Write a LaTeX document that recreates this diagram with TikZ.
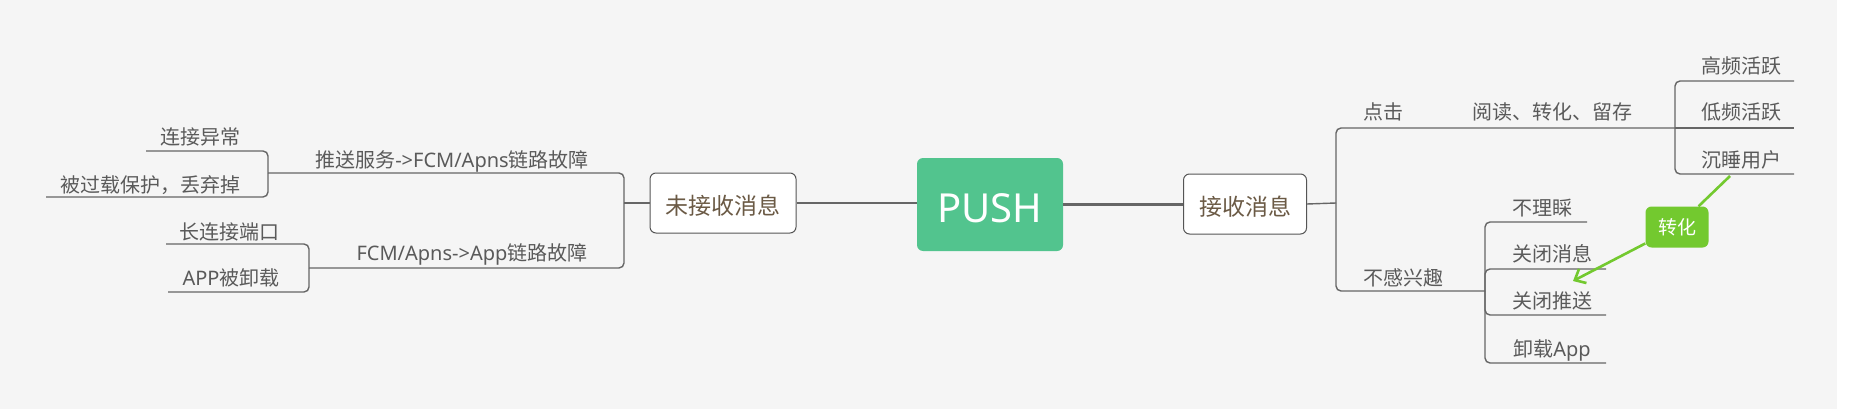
\documentclass[tikz,border=0pt]{standalone}
\usepackage{fontspec}
\setmainfont{Noto Sans CJK SC}
\newfontfamily\latf{Noto Sans}
\usetikzlibrary{arrows.meta}
\definecolor{bg}{HTML}{F5F5F5}
\definecolor{lnc}{HTML}{666666}
\definecolor{txt}{HTML}{5A5A5A}
\definecolor{mtxt}{HTML}{6B5A45}
\definecolor{pushg}{HTML}{52C48E}
\definecolor{cg}{HTML}{73C92F}
\definecolor{bord}{HTML}{555555}
\begin{document}
\begin{tikzpicture}[x=1pt,y=-1pt,
  lbl/.style={font=\fontsize{20}{24}\selectfont, text=txt, inner sep=0pt, anchor=base},
  mainbox/.style={draw=bord, line width=1pt, fill=white, rounded corners=6pt,
    minimum height=60pt, inner sep=0pt, font=\fontsize{23}{27}\selectfont,
    text=mtxt, text height=23.4pt, text depth=0pt},
  pushbox/.style={fill=pushg, rounded corners=6pt, minimum width=146pt,
    minimum height=93pt, inner sep=0pt, text=white, font=\latf\fontsize{40}{48}\selectfont,
    text height=36pt, text depth=0pt},
  callout/.style={fill=cg, rounded corners=6pt, minimum width=63pt, minimum height=41pt,
    inner sep=0pt, text=white, font=\fontsize{19}{23}\selectfont},
  br/.style={draw=lnc, line width=1.4pt, rounded corners=5pt},
  mainline/.style={draw=lnc, line width=2.6pt},
  gline/.style={draw=cg, line width=2.6pt}
]
\useasboundingbox (0,0) rectangle (1849,409);
\fill[white] (0,0) rectangle (1849,409);
\fill[bg] (0,0) rectangle (1837,409);

% central and main nodes
\node[pushbox] (push) at (990,204.5) {PUSH};
\node[mainbox, minimum width=146pt] (lnode) at (723,203) {未接收消息};
\node[mainbox, minimum width=123pt] (rnode) at (1245,204) {接收消息};
\draw[mainline] (lnode.east) -- (lnode.east -| push.west);
\draw[mainline] (push.east) -- (push.east -| rnode.west);

% left tree
\coordinate (jL) at (624,203);
\coordinate (jA) at (268,173);
\coordinate (jB) at (309,268);
\coordinate (eA1) at (146,151);
\coordinate (eA2) at (46,197);
\coordinate (eB1) at (166,244);
\coordinate (eB2) at (168,292);
\draw[br] (lnode.west) -- (jL);
\draw[br] (jL) |- (jA);
\draw[br] (jL) |- (jB);
\draw[br] (jA) |- (eA1);
\draw[br] (jA) |- (eA2);
\draw[br] (jB) |- (eB1);
\draw[br] (jB) |- (eB2);

\node[lbl] (a1) at (200,144) {连接异常};
\node[lbl] (a2) at (150,192) {被过载保护，丢弃掉};
\node[lbl] (la) at (452,167) {推送服务{\latf->FCM/Apns}链路故障};
\node[lbl] (b1) at (229,239) {长连接端口};
\node[lbl] (b2) at (231,285) {{\latf APP}被卸载};
\node[lbl] (lb) at (472,260) {{\latf FCM/Apns->App}链路故障};

% right tree
\coordinate (jR) at (1336,203);
\coordinate (jC) at (1675,128);
\coordinate (jD) at (1485,291);
\coordinate (eC1) at (1794,81);
\coordinate (eC2) at (1794,128);
\coordinate (eC3) at (1794,174);
\coordinate (eD1) at (1587,222);
\coordinate (eD2) at (1606,269);
\coordinate (eD3) at (1606,315);
\coordinate (eD4) at (1606,363);
\draw[br] (rnode.east) -- (jR);
\draw[br] (jR) |- (jC);
\draw[br] (jR) |- (jD);
\draw[br] (jC) |- (eC1);
\draw[br] (jC) -- (eC2);
\draw[br] (jC) |- (eC3);
\draw[br] (jD) |- (eD1);
\draw[br] (jD) |- (eD2);
\draw[br] (jD) |- (eD3);
\draw[br] (jD) |- (eD4);

\node[lbl] (click) at (1383,120) {点击};
\node[lbl] (read) at (1552,120) {阅读、转化、留存};
\node[lbl] (c1) at (1741,74) {高频活跃};
\node[lbl] (c2) at (1741,120) {低频活跃};
\node[lbl] (c3) at (1741,167) {沉睡用户};
\node[lbl] (nointr) at (1403,285) {不感兴趣};
\node[lbl] (d1) at (1542,215) {不理睬};
\node[lbl] (d2) at (1552,261) {关闭消息};
\node[lbl] (d3) at (1552,308) {关闭推送};
\node[lbl] (d4) at (1552,356) {卸载{\latf App}};

% conversion callout
\coordinate (sl) at (1730,176);
\coordinate (tip) at (1573,281);
\node[callout] (zh) at (1677,227) {转化};
\draw[gline] (sl) -- (zh);
\draw[gline, -{Straight Barb[length=9pt,width=16pt]}] (zh) -- (tip);
\end{tikzpicture}
\end{document}
